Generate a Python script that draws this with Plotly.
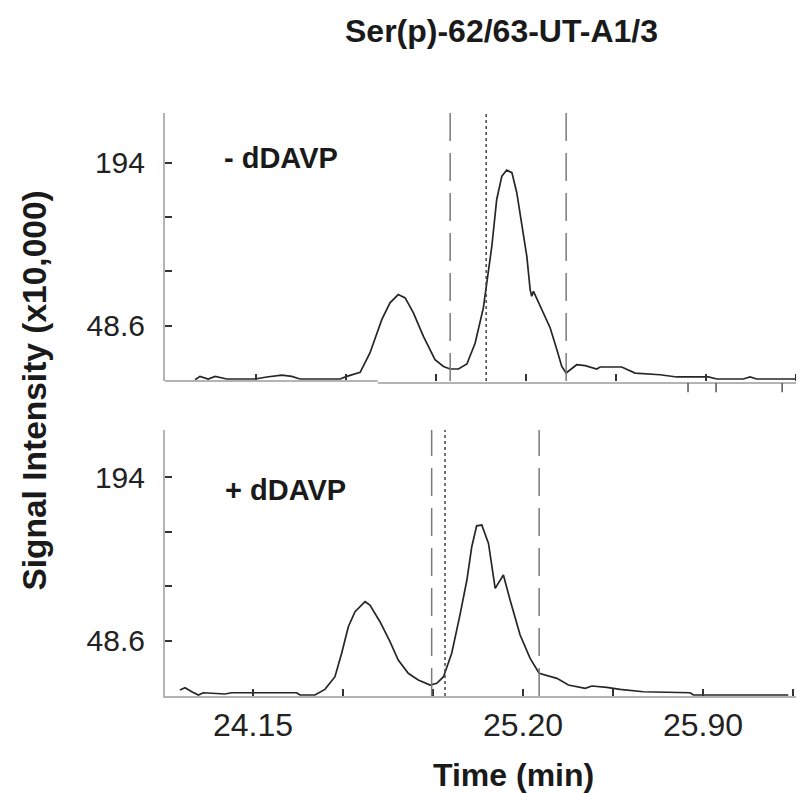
import plotly.graph_objects as go

# ---------------- data ----------------
title_text = "Ser(p)-62/63-UT-A1/3"
y_label = "Signal Intensity (x10,000)"
x_label = "Time (min)"
panel_labels = ["- dDAVP", "+ dDAVP"]

# - dDAVP trace
top_time = [23.913, 23.932, 23.964, 23.991, 24.036, 24.146, 24.192, 24.250, 24.289, 24.321,
            24.477, 24.503, 24.555, 24.593, 24.639, 24.671, 24.703, 24.730, 24.762, 24.801,
            24.846, 24.879, 24.905, 24.937, 24.970, 25.002, 25.034, 25.047, 25.067, 25.086,
            25.106, 25.125, 25.145, 25.164, 25.183, 25.203, 25.216, 25.222, 25.229, 25.255,
            25.294, 25.320, 25.339, 25.356, 25.371, 25.397, 25.430, 25.475, 25.488, 25.572,
            25.624, 25.721, 25.786, 25.909, 25.942, 26.045, 26.071, 26.097, 26.253]
top_signal = [0.45, 3.4, 1.1, 3.4, 1.1, 1.1, 2.9, 4.6, 3.4, 1.1,
              1.1, 3.4, 7.0, 24.3, 54.0, 69.0, 76.4, 73.4, 60.0, 39.1,
              18.3, 12.3, 10.0, 10.0, 14.5, 33.0, 64.5, 86.8, 119.5, 161.2,
              182.0, 187.4, 185.1, 167.2, 137.4, 110.6, 80.8, 74.9, 79.3, 65.9,
              46.6, 27.2, 12.3, 6.4, 9.4, 13.8, 13.0, 10.0, 11.8, 11.8,
              6.4, 4.9, 2.9, 2.9, 1.1, 1.1, 2.9, 1.1, 1.1]

# + dDAVP trace
bot_time = [23.866, 23.886, 23.912, 23.938, 23.957, 24.041, 24.067, 24.320, 24.333, 24.391,
            24.430, 24.469, 24.495, 24.521, 24.547, 24.586, 24.605, 24.644, 24.683, 24.715,
            24.754, 24.793, 24.839, 24.865, 24.891, 24.923, 24.955, 24.982, 25.001, 25.020,
            25.040, 25.066, 25.092, 25.124, 25.150, 25.189, 25.228, 25.263, 25.332, 25.377,
            25.442, 25.468, 25.526, 25.578, 25.668, 25.850, 25.863, 26.232]
bot_signal = [4.7, 6.8, 3.2, 0.3, 2.3, 1.2, 2.3, 2.3, 0.3, 0.3,
              5.3, 16.6, 37.4, 61.0, 74.4, 83.3, 80.3, 65.5, 47.7, 31.4,
              19.6, 13.6, 9.2, 10.7, 16.6, 37.4, 71.4, 102.6, 132.2, 150.8,
              151.5, 135.2, 95.2, 107.0, 84.8, 53.7, 32.9, 19.6, 15.1, 9.2,
              6.2, 8.3, 7.1, 5.3, 3.2, 2.3, 0.3, 0.3]

# integration bounds (dashed) and apex (dotted)
top_bounds = [24.905, 25.356]
top_apex = 25.045
bot_bounds = [24.845, 25.263]
bot_apex = 24.897

# axis ticks
x_tickvals = [24.15, 24.50, 24.85, 25.20, 25.55, 25.90, 26.25]
x_ticktext = ["24.15", "", "", "25.20", "", "25.90", ""]
y_tickvals = [48.6, 97.07, 145.53, 194]
y_ticktext = ["48.6", "", "", "194"]
top_lower_ticks = [25.830, 25.939, 26.196]

# ---------------- figure ----------------
FONT = "Liberation Sans, Arial, sans-serif"
AXIS_GRAY = "#b4b4b4"
TICK_COL = "#333333"

fig = go.Figure()
fig.add_trace(go.Scatter(x=top_time, y=top_signal, mode="lines",
                         line=dict(color="#262626", width=1.7),
                         xaxis="x", yaxis="y", showlegend=False))
fig.add_trace(go.Scatter(x=bot_time, y=bot_signal, mode="lines",
                         line=dict(color="#262626", width=1.7),
                         xaxis="x2", yaxis="y2", showlegend=False))

def vline(x, xref, yref, dash, color):
    fig.add_shape(type="line", x0=x, x1=x, y0=0, y1=1, xref=xref, yref=yref,
                  line=dict(color=color, width=1.5, dash=dash), layer="above")

for b in top_bounds:
    vline(b, "x", "y domain", "28px,12px", "#7a7a7a")
vline(top_apex, "x", "y domain", "3px,3px", "#444444")
for b in bot_bounds:
    vline(b, "x2", "y2 domain", "28px,12px", "#7a7a7a")
vline(bot_apex, "x2", "y2 domain", "3px,3px", "#444444")

# top panel baseline (two gray segments) and small downward ticks
fig.add_shape(type="line", xref="x domain", yref="y domain", x0=0, x1=0.333, y0=0, y1=0,
              line=dict(color=AXIS_GRAY, width=2))
fig.add_shape(type="line", xref="x domain", yref="y domain", x0=0.333, x1=1, y0=-0.0075, y1=-0.0075,
              line=dict(color=AXIS_GRAY, width=2))
for t in top_lower_ticks:
    fig.add_shape(type="line", xref="x", yref="y domain", x0=t, x1=t, y0=-0.0075, y1=-0.042,
                  line=dict(color="#555555", width=1.5))

common_x = dict(tickmode="array", tickvals=x_tickvals, ticks="inside", ticklen=7,
                tickwidth=1.5, tickcolor=TICK_COL, showgrid=False, zeroline=False)
common_y = dict(tickmode="array", tickvals=y_tickvals, ticktext=y_ticktext, ticks="inside",
                ticklen=7, tickwidth=1.5, tickcolor=TICK_COL, showgrid=False, zeroline=False,
                showline=True, linecolor=AXIS_GRAY, linewidth=2,
                tickfont=dict(family=FONT, size=30, color="#222222"), ticklabelstandoff=12)

# page body has an 8px margin, so the figure is 8px smaller on each axis
fig.update_layout(
    width=796, height=785,
    margin=dict(l=157, r=0, t=105, b=97),
    paper_bgcolor="white", plot_bgcolor="white",
    font=dict(family=FONT, color="#222222"),
    xaxis=dict(domain=[0, 1], anchor="y", range=[23.796, 26.281], showticklabels=False,
               showline=False, **common_x),
    yaxis=dict(domain=[0.5403, 1], anchor="x", range=[-0.7, 238.3], **common_y),
    xaxis2=dict(domain=[0, 1], anchor="y2", range=[23.808, 26.293], ticktext=x_ticktext,
                showline=True, linecolor=AXIS_GRAY, linewidth=2,
                tickfont=dict(family=FONT, size=32, color="#222222"), ticklabelstandoff=0,
                **common_x),
    yaxis2=dict(domain=[0, 0.4563], anchor="x2", range=[-0.6, 236.1], **common_y),
)

bold = dict(family=FONT, color="#1a1a1a")
fig.add_annotation(text="<b>" + title_text + "</b>", xref="paper", yref="paper",
                   x=0.526, y=1.141, showarrow=False, xanchor="center", yanchor="middle",
                   font=dict(size=32, **bold))
fig.add_annotation(text="<b>" + y_label + "</b>", xref="paper", yref="paper",
                   x=-0.2042, y=0.523, showarrow=False, textangle=-90,
                   xanchor="center", yanchor="middle", font=dict(size=33.5, **bold))
fig.add_annotation(text="<b>" + x_label + "</b>", xref="paper", yref="paper",
                   x=0.546, y=-0.136, showarrow=False, xanchor="center", yanchor="middle",
                   font=dict(size=32, **bold))
fig.add_annotation(text="<b>" + panel_labels[0] + "</b>", xref="paper", yref="paper",
                   x=0.1815, y=0.9228, showarrow=False, xanchor="center", yanchor="middle",
                   font=dict(size=29, **bold))
fig.add_annotation(text="<b>" + panel_labels[1] + "</b>", xref="paper", yref="paper",
                   x=0.1878, y=0.3533, showarrow=False, xanchor="center", yanchor="middle",
                   font=dict(size=29, **bold))

fig.write_html("out.html")
